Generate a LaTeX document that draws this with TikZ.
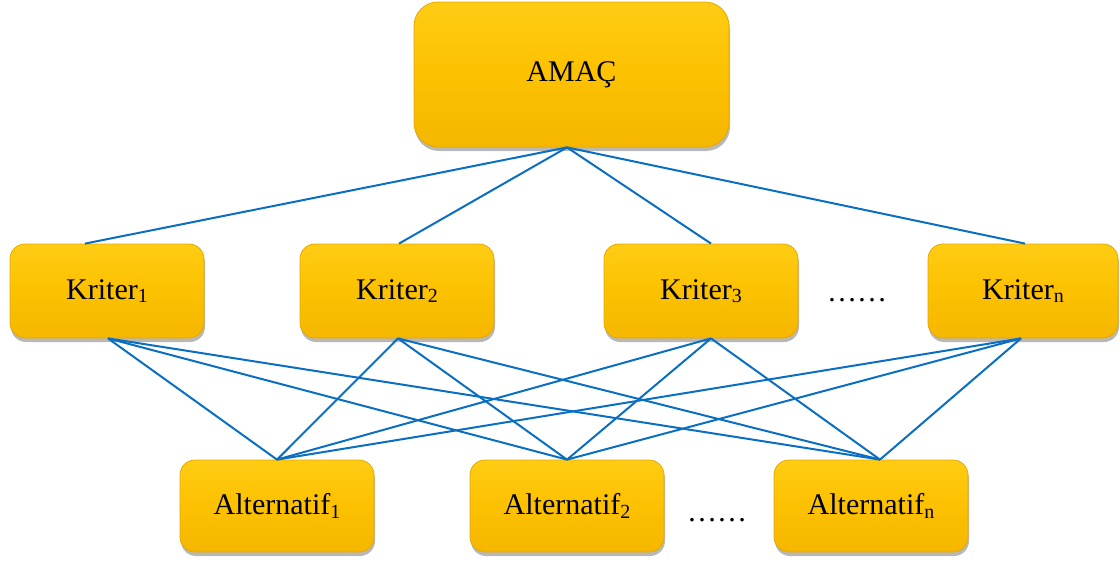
\documentclass[tikz,border=0pt]{standalone}
\usepackage{fontspec}
\setmainfont{Liberation Serif}
\usetikzlibrary{shadows}
\definecolor{gold}{HTML}{FCC100}
\definecolor{goldtop}{HTML}{FFCC14}
\definecolor{goldbot}{HTML}{F5B700}
\definecolor{goldedge}{HTML}{E6A900}
\definecolor{linkblue}{HTML}{0A6EC2}
\newcommand{\sbs}[1]{\raisebox{-3.5pt}{\fontsize{20}{20}\selectfont #1}}
\begin{document}
\begin{tikzpicture}[x=1pt,y=-1pt,
  box/.style={rounded corners=15pt, top color=goldtop, bottom color=goldbot, middle color=gold,
    draw=goldedge, line width=0.8pt,
    drop shadow={shadow xshift=1pt, shadow yshift=-4pt, fill=black, opacity=0.28},
    font=\fontsize{30}{36}\selectfont, inner sep=0pt, text=black},
  kbox/.style={box, minimum width=194pt, minimum height=94pt},
  abox/.style={box, minimum width=194pt, minimum height=92pt},
  dots/.style={font=\fontsize{30}{36}\selectfont, inner sep=0pt},
  link/.style={draw=linkblue, line width=2pt}]
\useasboundingbox (0,0) rectangle (1120,562);
\node[box, rounded corners=24pt, minimum width=315pt, minimum height=145pt] (amac) at (571.5,74.5) {AMAÇ};
\node[kbox] (k1) at (107,291) {Kriter\sbs{1}};
\node[kbox] (k2) at (397,291) {Kriter\sbs{2}};
\node[kbox] (k3) at (701,291) {Kriter\sbs{3}};
\node[kbox, minimum width=190pt] (kn) at (1023,291) {Kriter\sbs{n}};
\node[dots] (d1) at (857,300) {……};
\node[abox] (a1) at (277,506) {Alternatif\sbs{1}};
\node[abox] (a2) at (567,506) {Alternatif\sbs{2}};
\node[abox] (an) at (871,506) {Alternatif\sbs{n}};
\node[dots] (d2) at (717,520) {……};
\coordinate (top) at ([xshift=-4.5pt]amac.south);
\draw[link] (top) -- ([xshift=-22pt]k1.north);
\draw[link] (top) -- ([xshift=2pt]k2.north);
\draw[link] (top) -- ([xshift=10pt]k3.north);
\draw[link] (top) -- ([xshift=2pt]kn.north);
\foreach \k/\kx in {k1/1,k2/1,k3/10,kn/-2}{
  \foreach \a/\ax in {a1/0,a2/0,an/9}{
    \draw[link] ([xshift=\kx pt]\k.south) -- ([xshift=\ax pt]\a.north);
  }
}
\end{tikzpicture}
\end{document}
